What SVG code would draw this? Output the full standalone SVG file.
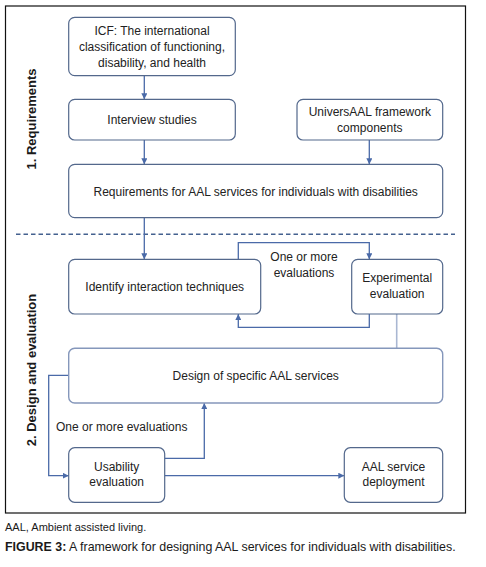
<svg xmlns="http://www.w3.org/2000/svg" width="486" height="567" viewBox="0 0 486 567">
<style>
.bx{fill:#fff;stroke:#53688c;stroke-width:1.2}
.bx2{fill:#fff;stroke:#8597bb;stroke-width:1.4}
.t{font-family:"Liberation Sans",Arial,sans-serif;font-size:12px;fill:#222;text-anchor:middle}
.tl{font-family:"Liberation Sans",Arial,sans-serif;font-size:12px;fill:#222}
.side{font-family:"Liberation Sans",Arial,sans-serif;font-size:13px;font-weight:bold;fill:#1a1a1a;text-anchor:middle}
.ln{fill:none;stroke:#4a6aa8;stroke-width:1.3}
.lnl{fill:none;stroke:#a9b7d2;stroke-width:1.6}
.cap{font-family:"Liberation Sans",Arial,sans-serif;fill:#1a1a1a}
</style>
<defs>
<marker id="ah" viewBox="0 0 10 10" refX="10" refY="5" markerWidth="6" markerHeight="6" markerUnits="userSpaceOnUse" orient="auto">
<path d="M0,0 L10,5 L0,10 z" fill="#4a6aa8"/>
</marker>
</defs>
<rect width="486" height="567" fill="#fff"/>
<rect x="5.5" y="6" width="460" height="507" fill="none" stroke="#111" stroke-width="1.2"/>
<line x1="16" y1="234.3" x2="455" y2="234.3" stroke="#44618f" stroke-width="1.5" stroke-dasharray="4.5,3"/>
<text class="side" transform="translate(36,119) rotate(-90)">1. Requirements</text>
<text class="side" transform="translate(36,370) rotate(-90)">2. Design and evaluation</text>

<g id="connectors">
<line class="ln" x1="144.3" y1="76" x2="144.3" y2="99.3" marker-end="url(#ah)"/>
<line class="ln" x1="144.3" y1="140" x2="144.3" y2="164.3" marker-end="url(#ah)"/>
<line class="ln" x1="369.3" y1="140" x2="369.3" y2="164.3" marker-end="url(#ah)"/>
<line class="ln" x1="144.3" y1="217.7" x2="144.3" y2="259.3" marker-end="url(#ah)"/>
<polyline class="ln" points="238.3,259.3 238.3,242.7 369.3,242.7 369.3,259.3" marker-end="url(#ah)"/>
<polyline class="ln" points="369.3,314 369.3,327.3 238.3,327.3 238.3,314" marker-end="url(#ah)"/>
<line class="lnl" x1="396.7" y1="314" x2="396.7" y2="348.3"/>
<polyline class="ln" points="68.7,375.3 48.7,375.3 48.7,475.7 68.7,475.7" marker-end="url(#ah)"/>
<polyline class="ln" points="164.7,458.3 204.3,458.3 204.3,403" marker-end="url(#ah)"/>
<line class="ln" x1="164.7" y1="475.7" x2="344.3" y2="475.7" marker-end="url(#ah)"/>
<text class="t" x="304" y="260.5">One or more</text>
<text class="t" x="304" y="276.5">evaluations</text>
<text class="tl" x="56" y="431">One or more evaluations</text>
</g>

<g id="icf">
<rect class="bx" x="68.7" y="17.3" width="166.6" height="58.4" rx="6"/>
<text class="t" x="152" y="34.5">ICF: The international</text>
<text class="t" x="152" y="50.5">classification of functioning,</text>
<text class="t" x="152" y="66.5">disability, and health</text>
</g>
<g id="interview">
<rect class="bx" x="68.7" y="99.3" width="166.6" height="40.7" rx="6"/>
<text class="t" x="152" y="123.5">Interview studies</text>
</g>
<g id="universaal">
<rect class="bx" x="297" y="99.3" width="145.7" height="40.7" rx="6"/>
<text class="t" x="369.8" y="115.5">UniversAAL framework</text>
<text class="t" x="369.8" y="131.5">components</text>
</g>
<g id="requirements">
<rect class="bx" x="68.7" y="164.3" width="374" height="53.4" rx="6"/>
<text class="t" x="255.7" y="195.5">Requirements for AAL services for individuals with disabilities</text>
</g>
<g id="identify">
<rect class="bx" x="68.7" y="259.3" width="192" height="54.7" rx="6"/>
<text class="t" x="164.7" y="290.5">Identify interaction techniques</text>
</g>
<g id="experimental">
<rect class="bx" x="351.7" y="259.3" width="91" height="54.7" rx="6"/>
<text class="t" x="397.2" y="282">Experimental</text>
<text class="t" x="397.2" y="298">evaluation</text>
</g>
<g id="design">
<rect class="bx2" x="68.7" y="348.3" width="374" height="54.7" rx="6"/>
<text class="t" x="255.7" y="379.5">Design of specific AAL services</text>
</g>
<g id="usability">
<rect class="bx" x="68.7" y="447.7" width="96" height="54.6" rx="6"/>
<text class="t" x="116.7" y="470.5">Usability</text>
<text class="t" x="116.7" y="486">evaluation</text>
</g>
<g id="deployment">
<rect class="bx" x="344.3" y="447.7" width="98.4" height="54.6" rx="6"/>
<text class="t" x="393.5" y="470.5">AAL service</text>
<text class="t" x="393.5" y="486">deployment</text>
</g>

<text class="cap" x="5" y="531" font-size="11">AAL, Ambient assisted living.</text>
<text class="cap" x="5" y="550.5" font-size="12.4"><tspan font-weight="bold">FIGURE 3:</tspan> A framework for designing AAL services for individuals with disabilities.</text>
</svg>
